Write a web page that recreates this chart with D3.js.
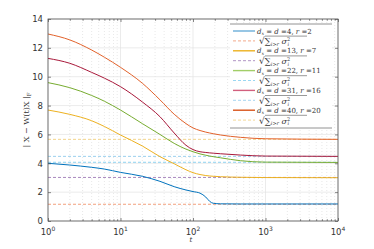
<!DOCTYPE html>
<html>
<head>
<meta charset="utf-8">
<script src="https://cdn.jsdelivr.net/npm/d3@7"></script>
<style>
body { margin: 0; background: #fff; }
svg { display: block; }
</style>
</head>
<body>
<script>
// time steps
var tVals = [1, 2, 4, 6, 10, 20, 35, 55, 80, 100, 125, 150, 170, 190, 240, 450, 1000, 10000];

var err4  = [4.0, 3.88, 3.72, 3.6, 3.37, 3.1, 2.75, 2.38, 2.15, 2.04, 1.93, 1.66, 1.36, 1.23, 1.19, 1.18, 1.18, 1.18];
var err13 = [7.69, 7.39, 6.95, 6.55, 5.96, 5.2, 4.46, 3.97, 3.55, 3.35, 3.22, 3.15, 3.12, 3.1, 3.07, 3.03, 3.01, 3.0];
var err22 = [9.59, 9.24, 8.7, 8.3, 7.69, 6.75, 6.0, 5.38, 4.98, 4.8, 4.65, 4.56, 4.5, 4.46, 4.38, 4.18, 4.08, 4.06];
var err31 = [11.27, 10.93, 10.3, 9.9, 9.31, 8.25, 7.23, 6.1, 5.25, 4.95, 4.8, 4.75, 4.72, 4.7, 4.66, 4.57, 4.5, 4.48];
var err40 = [12.96, 12.55, 11.85, 11.35, 10.65, 9.55, 8.4, 7.4, 6.75, 6.45, 6.27, 6.16, 6.1, 6.05, 5.96, 5.8, 5.7, 5.66];

// sqrt(sum_{i>r} sigma_i^2) levels
var floors = [1.16, 3.02, 4.07, 4.48, 5.66];

var dVals = [4, 13, 22, 31, 40];
var rVals = [2, 7, 11, 16, 20];
var lineColors = ["#0072BD", "#EDB120", "#77AC30", "#A8183A", "#E2622B"];
var legendColors = ["#6BAED8", "#EDB120", "#A2CE68", "#D2607E", "#D95319"];
var dashColors = ["#F2A07E", "#A888BE", "#8ED2F0", "#9CD0EE", "#F2D48C"];

var yTicks = [0, 2, 4, 6, 8, 10, 12, 14];
var xTicks = [1, 10, 100, 1000, 10000];

var W = 374, H = 249;
var pL = 48, pR = 338, pT = 19, pB = 221;

var svg = d3.select("body").append("svg")
    .attr("width", W).attr("height", H);

var x = d3.scaleLog().domain([1, 10000]).range([pL, pR]);
var y = d3.scaleLinear().domain([0, 14]).range([pB, pT]);

var minor = [];
for (var d = 1; d < 10000; d *= 10) {
    for (var k = 2; k <= 9; k++) minor.push(d * k);
}

// grid
var grid = svg.append("g");
grid.selectAll(".minor").data(minor).enter().append("line")
    .attr("x1", function (v) { return x(v); }).attr("x2", function (v) { return x(v); })
    .attr("y1", pT).attr("y2", pB)
    .attr("stroke", "#d8d8d8").attr("stroke-width", 0.6).attr("stroke-dasharray", "1,2");
grid.selectAll(".vx").data(xTicks).enter().append("line")
    .attr("x1", function (v) { return x(v); }).attr("x2", function (v) { return x(v); })
    .attr("y1", pT).attr("y2", pB)
    .attr("stroke", "#e3e3e3").attr("stroke-width", 0.7);
grid.selectAll(".hy").data(yTicks).enter().append("line")
    .attr("x1", pL).attr("x2", pR)
    .attr("y1", function (v) { return y(v); }).attr("y2", function (v) { return y(v); })
    .attr("stroke", "#e3e3e3").attr("stroke-width", 0.7);

// dashed floors
svg.selectAll(".floor").data(floors).enter().append("line")
    .attr("x1", pL).attr("x2", pR)
    .attr("y1", function (v) { return y(v); }).attr("y2", function (v) { return y(v); })
    .attr("stroke", function (v, i) { return dashColors[i]; })
    .attr("stroke-width", 1).attr("stroke-dasharray", "3,2");

// curves
var series = [err4, err13, err22, err31, err40];
var line = d3.line()
    .x(function (v, i) { return x(tVals[i]); })
    .y(function (v) { return y(v); })
    .curve(d3.curveMonotoneX);

svg.selectAll(".curve").data(series).enter().append("path")
    .attr("d", line)
    .attr("fill", "none")
    .attr("stroke", function (s, i) { return lineColors[i]; })
    .attr("stroke-width", 1);

// axes box with inward ticks
var axisColor = "#555";
svg.append("rect").attr("x", pL).attr("y", pT)
    .attr("width", pR - pL).attr("height", pB - pT)
    .attr("fill", "none").attr("stroke", axisColor).attr("stroke-width", 0.8);

var axL = svg.append("g").attr("transform", "translate(" + pL + ",0)")
    .call(d3.axisLeft(y).tickValues(yTicks).tickSizeInner(-3).tickSizeOuter(0).tickPadding(5));
var axR = svg.append("g").attr("transform", "translate(" + pR + ",0)")
    .call(d3.axisRight(y).tickValues(yTicks).tickSizeInner(-3).tickSizeOuter(0).tickFormat(""));
var axB = svg.append("g").attr("transform", "translate(0," + pB + ")")
    .call(d3.axisBottom(x).tickValues(xTicks).tickSizeInner(-3).tickSizeOuter(0).tickFormat(""));
var axT = svg.append("g").attr("transform", "translate(0," + pT + ")")
    .call(d3.axisTop(x).tickValues(xTicks).tickSizeInner(-3).tickSizeOuter(0).tickFormat(""));
var axBm = svg.append("g").attr("transform", "translate(0," + pB + ")")
    .call(d3.axisBottom(x).tickValues(minor).tickSizeInner(-1.8).tickSizeOuter(0).tickFormat(""));
var axTm = svg.append("g").attr("transform", "translate(0," + pT + ")")
    .call(d3.axisTop(x).tickValues(minor).tickSizeInner(-1.8).tickSizeOuter(0).tickFormat(""));

[axL, axR, axB, axT, axBm, axTm].forEach(function (a) {
    a.select(".domain").remove();
    a.selectAll("line").attr("stroke", axisColor).attr("stroke-width", 0.7);
});
axL.selectAll("text")
    .attr("font-family", "DejaVu Sans, sans-serif").attr("font-size", 8.5).attr("fill", "#333");

// x tick labels 10^n
var xl = svg.selectAll(".xl").data(xTicks).enter().append("text")
    .attr("x", function (v) { return x(v); })
    .attr("y", 235)
    .attr("text-anchor", "middle")
    .attr("font-family", "DejaVu Sans, sans-serif").attr("font-size", 8.5).attr("fill", "#333");
xl.append("tspan").text("10");
xl.append("tspan").attr("dy", -4).attr("font-size", 6).text(function (v) { return Math.round(Math.log10(v)); });

// axis titles
svg.append("text").attr("x", (pL + pR) / 2 - 2).attr("y", 242)
    .attr("text-anchor", "middle")
    .attr("font-family", "DejaVu Serif, serif").attr("font-style", "italic")
    .attr("font-size", 7).attr("fill", "#333").text("t");

var yl = svg.append("text")
    .attr("transform", "translate(29," + ((pT + pB) / 2) + ") rotate(-90)")
    .attr("text-anchor", "middle")
    .attr("font-family", "DejaVu Serif, serif")
    .attr("font-size", 8).attr("fill", "#333");
yl.append("tspan").text("| X \u2212 W(t)X |");
yl.append("tspan").attr("dy", 2).attr("font-size", 5.5).text("F");

// legend
var lgX = 230, lgR = 332, lgTop = 24, lgBot = 128;
var lg = svg.append("g");
lg.append("rect").attr("x", lgX).attr("y", lgTop)
    .attr("width", lgR - lgX).attr("height", lgBot - lgTop).attr("fill", "#fff");
lg.append("line").attr("x1", lgX).attr("x2", lgR).attr("y1", lgTop).attr("y2", lgTop)
    .attr("stroke", "#777").attr("stroke-width", 0.8);
lg.append("line").attr("x1", lgX).attr("x2", lgR).attr("y1", lgBot).attr("y2", lgBot)
    .attr("stroke", "#777").attr("stroke-width", 0.8);

var rowGap = 9.9;
dVals.forEach(function (dv, i) {
    var ry = 31 + i * 2 * rowGap;
    lg.append("line").attr("x1", 233).attr("x2", 255).attr("y1", ry).attr("y2", ry)
        .attr("stroke", legendColors[i]).attr("stroke-width", 1.4);
    var t = lg.append("text").attr("x", 257).attr("y", ry + 2.5)
        .attr("font-family", "DejaVu Serif, serif").attr("font-style", "italic")
        .attr("font-size", 7).attr("fill", "#333");
    t.append("tspan").text("d");
    t.append("tspan").attr("dy", 1.5).attr("font-size", 4.5).text("x");
    t.append("tspan").attr("dy", -1.5).attr("font-style", "normal").text(" = ");
    t.append("tspan").text("d");
    t.append("tspan").attr("font-style", "normal").text(" =" + dv + ", ");
    t.append("tspan").text("r");
    t.append("tspan").attr("font-style", "normal").text(" =" + rVals[i]);

    var dy = ry + rowGap;
    lg.append("line").attr("x1", 233).attr("x2", 255).attr("y1", dy).attr("y2", dy)
        .attr("stroke", dashColors[i]).attr("stroke-width", 0.9).attr("stroke-dasharray", "3,2");
    var s = lg.append("text").attr("x", 259).attr("y", dy + 3.5)
        .attr("font-family", "DejaVu Serif, serif")
        .attr("font-size", 8).attr("fill", "#333");
    s.append("tspan").attr("font-size", 9).text("\u221A");
    s.append("tspan").attr("font-size", 8.5).text("\u2211");
    s.append("tspan").attr("dy", 1.8).attr("font-size", 5).attr("font-style", "italic").text("i>r");
    s.append("tspan").attr("dy", -1.8).attr("font-style", "italic").text(" \u03C3");
    s.append("tspan").attr("dy", -3).attr("font-size", 5).text("2");
    s.append("tspan").attr("dx", -2.8).attr("dy", 4.8).attr("font-size", 5).attr("font-style", "italic").text("i");
    lg.append("line").attr("x1", 265).attr("x2", 307).attr("y1", dy - 4.8).attr("y2", dy - 4.8)
        .attr("stroke", "#333").attr("stroke-width", 0.5);
});
</script>
</body>
</html>
